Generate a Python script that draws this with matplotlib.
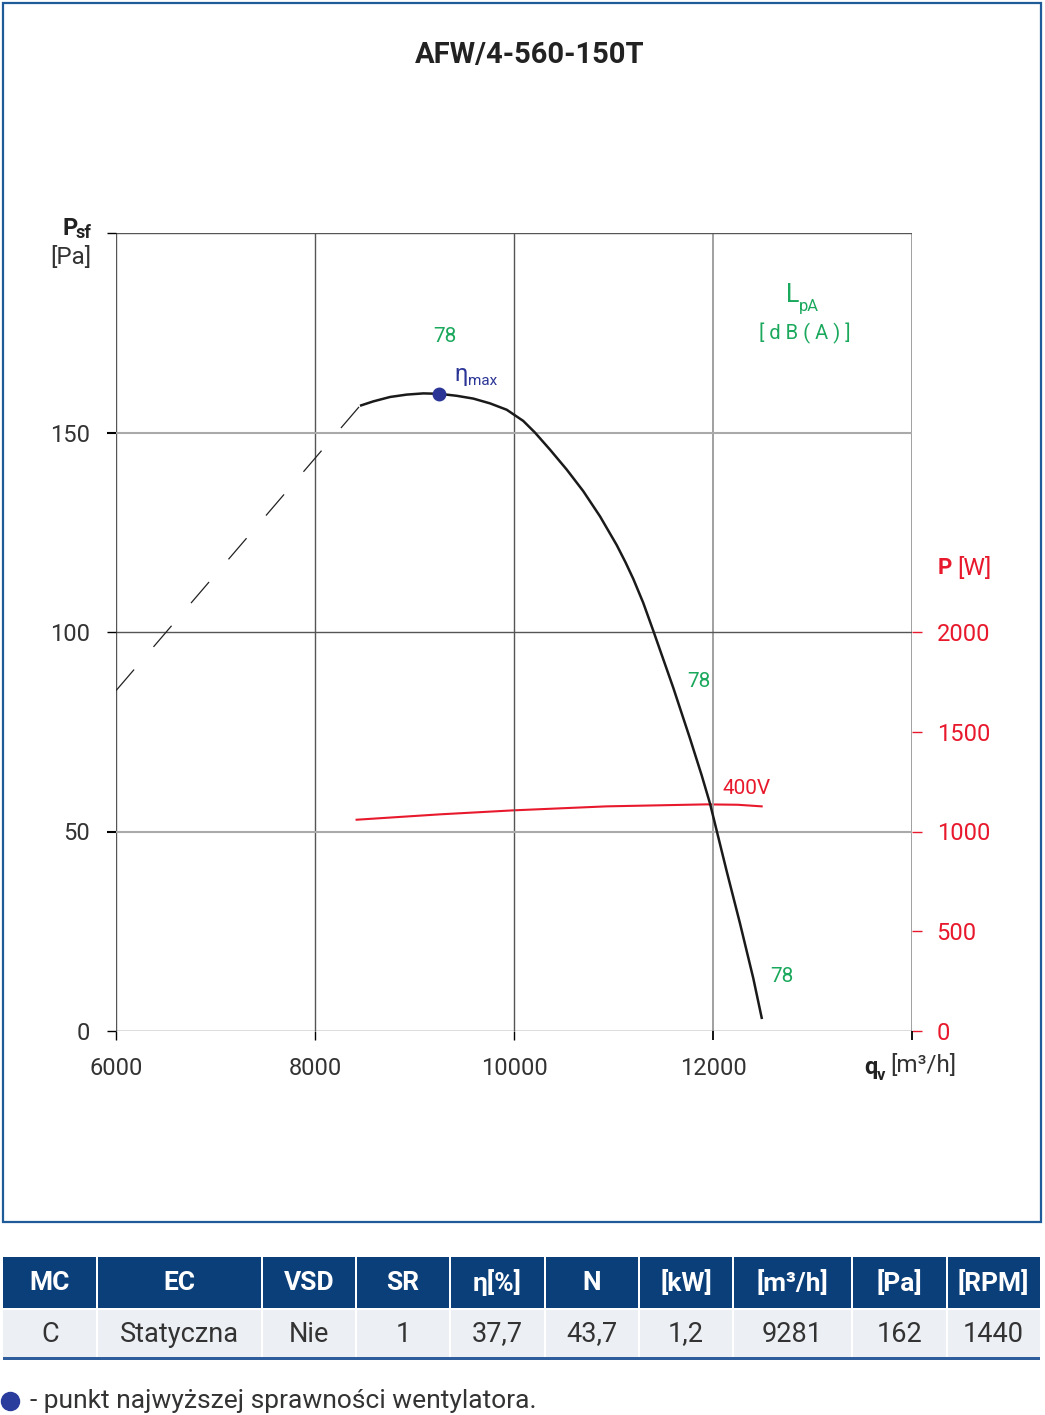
import matplotlib
matplotlib.use("Agg")
import matplotlib.pyplot as plt
from matplotlib.patches import Rectangle
from matplotlib.lines import Line2D

plt.rcParams['font.family'] = ['Roboto', 'DejaVu Sans']
plt.rcParams['lines.scale_dashes'] = False

# ---------------- data ----------------
title = "AFW/4-560-150T"
x_ticks = [6000, 8000, 10000, 12000, 14000]
x_tick_labels = ["6000", "8000", "10000", "12000", ""]
y_ticks = [0, 50, 100, 150, 200]
y_tick_labels = ["0", "50", "100", "150", ""]
p_ticks = [0, 500, 1000, 1500, 2000]
p_tick_labels = ["0", "500", "1000", "1500", "2000"]

# unstable (dashed) part of the fan curve
dash_q = [6000, 8452]
dash_p = [85.3, 156.7]

# fan curve  qv [m3/h] -> Psf [Pa]
curve_q = [8452, 8586, 8754, 8922, 9089, 9250, 9424, 9591, 9759, 9927, 10093,
           10210, 10362, 10530, 10696, 10864, 11032, 11120, 11199, 11299, 11400,
           11601, 11769, 11886, 11970, 12138, 12271, 12405, 12492]
curve_p = [156.7, 157.8, 158.9, 159.5, 159.8, 159.7, 159.2, 158.5, 157.3, 155.7, 152.9,
           150.0, 145.7, 140.7, 135.3, 129.0, 121.8, 117.5, 113.3, 107.3, 100.3,
           86.0, 73.3, 64.1, 57.0, 40.0, 27.0, 13.2, 3.0]

# power curve qv -> P [W]
power_q = [8418, 9256, 9993, 10930, 11936, 12250, 12489]
power_w = [1059, 1086, 1106, 1126, 1136, 1134, 1126]

eta_q, eta_p = 9250, 159.7

noise_labels = ["78", "78", "78"]
noise_pos = [(445, 336), (699, 681), (782, 977)]  # pixel positions of labels

table_header = ["MC", "EC", "VSD", "SR", "η[%]", "N", "[kW]", "[m³/h]", "[Pa]", "[RPM]"]
table_values = ["C", "Statyczna", "Nie", "1", "37,7", "43,7", "1,2", "9281", "162", "1440"]
col_edges = [3, 97, 262, 356, 450, 545, 639, 733, 852, 947, 1040]

footnote = "- punkt najwyższej sprawności wentylatora."

# ---------------- style ----------------
W, H = 1045, 1415
DARK = "#555555"
LIGHT = "#aaaaaa"
TXT = "#333333"
RED = "#e8192c"
GREEN = "#1aa85c"
NAVY = "#2b3596"
FRAME = "#1f5a99"
HEAD = "#0b3f7a"
ROWBG = "#eceff4"

def fx(px):
    return px / W

def fy(py):
    return 1 - py / H

fig = plt.figure(figsize=(W / 100, H / 100), dpi=100)

# frame
fig.add_artist(Rectangle((fx(3), fy(1222)), fx(1041) - fx(3), fy(3) - fy(1222),
                         transform=fig.transFigure, fill=False, ec=FRAME, lw=1.6))

ax = fig.add_axes([fx(116), fy(1031), (912 - 116) / W, (1031 - 233) / H])
tw = ax.twinx()
ax.set_zorder(tw.get_zorder() + 1)
ax.patch.set_visible(False)

ax.set_xlim(6000, 14000)
ax.set_ylim(0, 200)
tw.set_ylim(0, 4000)

for a in (ax, tw):
    for s in a.spines.values():
        s.set_visible(False)

ax.set_xticks(x_ticks)
ax.set_yticks(y_ticks)
ax.set_xticklabels(x_tick_labels)
ax.set_yticklabels(y_tick_labels)
ax.grid(True)
ax.tick_params(axis='both', direction='out', length=6.5, labelsize=17, labelcolor=TXT)
ax.tick_params(axis='x', pad=12)
ax.tick_params(axis='y', pad=12)

for t, v in zip(ax.xaxis.get_major_ticks(), x_ticks):
    c = DARK if v <= 10000 else "#999999"
    lw = 1.0 if v <= 10000 else 1.3
    t.gridline.set_color(c); t.gridline.set_linewidth(lw); t.gridline.set_alpha(1)
    t.tick1line.set_color(c); t.tick1line.set_markeredgewidth(lw)
for t, v in zip(ax.yaxis.get_major_ticks(), y_ticks):
    c = LIGHT if v in (50, 150) else DARK
    lw = 1.5 if v in (50, 150) else 1.0
    t.gridline.set_color(c); t.gridline.set_linewidth(lw); t.gridline.set_alpha(1)
    t.tick1line.set_color(c); t.tick1line.set_markeredgewidth(lw)

tw.set_yticks(p_ticks)
tw.set_yticklabels(p_tick_labels)
tw.tick_params(axis='y', direction='out', length=7.2, width=1.0, colors=RED,
               labelsize=17, pad=10.5)

# curves
ax.plot(dash_q, dash_p, color="#222222", lw=0.9, dashes=(20, 21.5), zorder=3)
ax.plot(curve_q, curve_p, color="#1a1a1a", lw=1.8, zorder=4,
        solid_joinstyle='round', solid_capstyle='butt')
tw.plot(power_q, power_w, color=RED, lw=1.5, zorder=2)
ax.plot([eta_q], [eta_p], 'o', color=NAVY, ms=9, zorder=5)

# texts (pixel positions)
fig.text(fx(530), fy(55), title, ha='center', va='center', fontsize=21,
         fontweight='bold', color="#222222")

fig.text(fx(63), fy(235), "P", ha='left', va='baseline', fontsize=17,
         fontweight='bold', color="#222222")
fig.text(fx(76), fy(238), "sf", ha='left', va='baseline', fontsize=13,
         fontweight='bold', color="#222222")
fig.text(fx(91), fy(257), "[Pa]", ha='right', va='center', fontsize=17.5, color=TXT)

fig.text(fx(786), fy(302), "L", ha='left', va='baseline', fontsize=18, color=GREEN)
fig.text(fx(799), fy(311), "pA", ha='left', va='baseline', fontsize=12, color=GREEN)
fig.text(fx(805), fy(333), "[ d B ( A ) ]", ha='center', va='center', fontsize=14.5,
         color=GREEN)

for lab, (px, py) in zip(noise_labels, noise_pos):
    fig.text(fx(px), fy(py), lab, ha='center', va='center', fontsize=15, color=GREEN)

fig.text(fx(454), fy(381), "η", ha='left', va='baseline', fontsize=17, color=NAVY)
fig.text(fx(468), fy(385), "max", ha='left', va='baseline', fontsize=11, color=NAVY)

fig.text(fx(747), fy(788), "400V", ha='center', va='center', fontsize=15, color=RED)

fig.text(fx(938), fy(568), "P", ha='left', va='center', fontsize=16,
         fontweight='bold', color=RED)
fig.text(fx(957), fy(568), "[W]", ha='left', va='center', fontsize=17.5, color=RED)

fig.text(fx(864), fy(1074), "q", ha='left', va='baseline', fontsize=17,
         fontweight='bold', color="#222222")
fig.text(fx(877), fy(1080), "v", ha='left', va='baseline', fontsize=12,
         fontweight='bold', color="#222222")
fig.text(fx(890), fy(1066), "[m³/h]", ha='left', va='center', fontsize=17.5, color=TXT)

# ---------------- table ----------------
tab = fig.add_axes([fx(3), fy(1361), (1040 - 3) / W, (1361 - 1257) / H])
tab.set_xlim(3, 1040)
tab.set_ylim(1361, 1257)
tab.axis('off')
gap = 2.5
for i, (hd, val) in enumerate(zip(table_header, table_values)):
    x0, x1 = col_edges[i], col_edges[i + 1]
    xa = x0 + (gap / 2 if i > 0 else 0)
    xb = x1 - (gap / 2 if i < len(table_header) - 1 else 0)
    tab.add_patch(Rectangle((xa, 1257), xb - xa, 1308 - 1257, fc=HEAD, ec='none'))
    tab.add_patch(Rectangle((xa, 1310), xb - xa, 1357 - 1310, fc=ROWBG, ec='none'))
    xc = (x0 + x1) / 2
    tab.text(xc, 1283, hd, ha='center', va='center', fontsize=19, fontweight='bold',
             color='white')
    tab.text(xc, 1334, val, ha='center', va='center', fontsize=19.5, color=TXT)
tab.add_patch(Rectangle((3, 1357), 1037, 2.8, fc="#2f5d9c", ec='none'))

# footnote
fig.add_artist(Line2D([fx(10)], [fy(1401)], marker='o', ms=13, color="#2a3c9c",
                      transform=fig.transFigure))
fig.text(fx(30), fy(1401), footnote, ha='left', va='center', fontsize=19, color=TXT)

fig.savefig("out.png", dpi=100)
